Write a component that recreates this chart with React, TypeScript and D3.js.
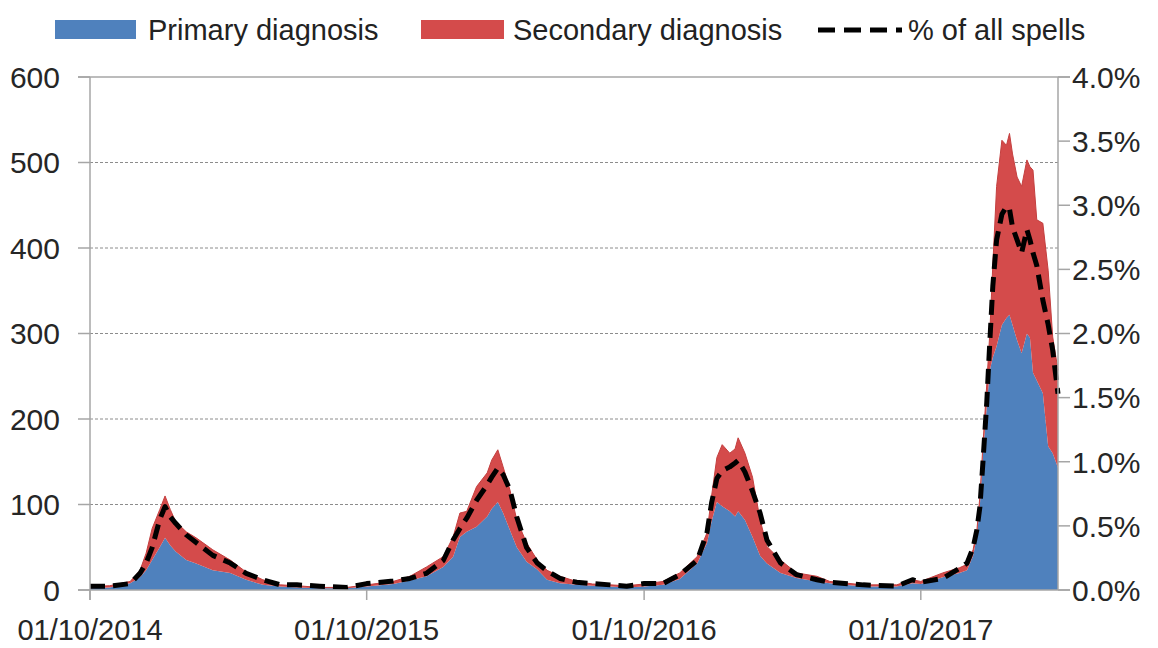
import * as d3 from "d3";

// sample dates (irregular, denser around the winter peaks)
const dates = [
  "2014-10-01", "2014-10-27", "2014-11-23", "2014-12-06", "2014-12-14", "2014-12-22",
  "2015-01-01", "2015-01-08", "2015-01-15", "2015-01-22", "2015-02-05", "2015-02-18",
  "2015-03-12", "2015-04-04", "2015-04-25", "2015-05-17", "2015-06-09", "2015-07-01",
  "2015-07-31", "2015-09-05",
  "2015-10-01", "2015-11-05", "2015-11-27", "2015-12-19", "2016-01-10", "2016-01-23",
  "2016-02-01", "2016-02-10", "2016-02-23", "2016-03-08", "2016-03-14", "2016-03-22",
  "2016-03-29", "2016-04-07", "2016-04-16", "2016-04-29", "2016-05-13", "2016-05-26",
  "2016-06-12", "2016-07-04", "2016-07-25", "2016-08-17", "2016-09-08",
  "2016-10-01", "2016-10-26", "2016-11-17", "2016-12-10", "2016-12-23", "2016-12-29",
  "2017-01-05", "2017-01-12", "2017-01-22", "2017-01-29", "2017-02-02", "2017-02-11",
  "2017-02-21", "2017-03-03", "2017-03-12", "2017-03-30", "2017-04-20", "2017-05-17",
  "2017-06-03", "2017-07-17", "2017-08-30", "2017-09-20",
  "2017-10-01", "2017-10-30", "2017-11-21", "2017-12-01", "2017-12-09", "2017-12-14",
  "2017-12-18", "2017-12-22", "2017-12-27", "2017-12-31", "2018-01-04", "2018-01-09",
  "2018-01-16", "2018-01-22", "2018-01-26", "2018-01-30", "2018-02-05", "2018-02-11",
  "2018-02-18", "2018-02-22", "2018-02-26", "2018-03-03", "2018-03-11", "2018-03-18",
  "2018-03-24", "2018-03-31",
];

const primary = [
  2, 3, 8, 15, 23, 35, 50, 61, 52, 45, 35, 31, 23, 20, 12, 6, 4, 3, 2, 2,
  4, 7, 11, 16, 27, 39, 62, 68, 74, 86, 95, 103, 90, 70, 50, 33, 24, 12, 8, 6, 5, 4, 3,
  4, 6, 13, 31, 55, 80, 103, 98, 92, 86, 92, 82, 62, 40, 31, 20, 14, 10, 8, 4, 4, 8,
  7, 15, 20, 23, 40, 62, 100, 158, 215, 257, 272, 285, 310, 318, 322, 310, 292, 277,
  300, 295, 254, 245, 230, 168, 160, 143,
];

const total = [
  4, 5, 10, 23, 43, 72, 94, 110, 94, 80, 68, 61, 47, 35, 21, 12, 6, 5, 3, 3,
  6, 10, 16, 27, 39, 62, 90, 92, 121, 137, 152, 164, 144, 117, 82, 55, 35, 23, 16, 10, 7, 6, 5,
  7, 10, 20, 39, 67, 110, 155, 170, 160, 165, 178, 160, 132, 82, 51, 35, 20, 16, 10, 6, 6, 12,
  10, 20, 26, 30, 47, 70, 110, 170, 240, 300, 380, 472, 526, 520, 534, 510, 483, 472,
  503, 495, 491, 433, 429, 374, 296, 257,
];
const secondary = total.map((t, i) => t - primary[i]);

// % of all spells
const pctSpells = [
  0.03, 0.03, 0.05, 0.13, 0.21, 0.33, 0.55, 0.65, 0.57, 0.52, 0.43, 0.37, 0.27, 0.21,
  0.13, 0.08, 0.04, 0.04, 0.03, 0.02,
  0.05, 0.07, 0.09, 0.13, 0.23, 0.39, 0.48, 0.56, 0.70, 0.82, 0.88, 0.95, 0.90, 0.78,
  0.57, 0.33, 0.21, 0.15, 0.09, 0.06, 0.05, 0.04, 0.03,
  0.05, 0.05, 0.12, 0.23, 0.45, 0.68, 0.87, 0.93, 0.96, 0.99, 1.01, 0.92, 0.77, 0.60,
  0.39, 0.21, 0.12, 0.08, 0.06, 0.04, 0.03, 0.08,
  0.06, 0.09, 0.17, 0.21, 0.33, 0.47, 0.65, 1.0, 1.46, 1.93, 2.37, 2.73, 2.93, 2.99,
  2.97, 2.83, 2.73, 2.63, 2.81, 2.73, 2.63, 2.53, 2.26, 2.07, 1.87, 1.53,
];

const xTicks = ["2014-10-01", "2015-10-01", "2016-10-01", "2017-10-01"];
const leftTicks = [0, 100, 200, 300, 400, 500, 600];
const rightTicks = [0, 0.5, 1, 1.5, 2, 2.5, 3, 3.5, 4];

const BLUE = "#4F81BD";
const RED = "#D44B4B";
const FONT = "'Liberation Sans', Arial, sans-serif";

export default function App() {
  const W = 1158, H = 648;
  const plot = { left: 90, right: 1058, top: 77, bottom: 590 };
  const parse = d3.timeParse("%Y-%m-%d");
  const fmt = d3.timeFormat("%d/%m/%Y");

  const x = d3.scaleTime()
    .domain([parse("2014-10-01")!, parse("2018-03-31")!])
    .range([plot.left, plot.right]);
  const y = d3.scaleLinear().domain([0, 600]).range([plot.bottom, plot.top]);
  const y2 = d3.scaleLinear().domain([0, 4]).range([plot.bottom, plot.top]);

  const rows = dates.map((d, i) => ({
    date: parse(d)!,
    primary: primary[i],
    secondary: secondary[i],
    pct: pctSpells[i],
  }));
  const stacked = d3.stack<any>().keys(["primary", "secondary"])(rows);

  const area = d3.area<any>()
    .x((d) => x(d.data.date))
    .y0((d) => y(d[0]))
    .y1((d) => y(d[1]));
  const topLine = d3.line<any>().x((d) => x(d.data.date)).y((d) => y(d[1]));
  const pctLine = d3.line<any>().x((d) => x(d.date)).y((d) => y2(d.pct));

  return (
    <svg width={W} height={H} style={{ position: "absolute", left: 0, top: 0, background: "#fff" }}
      fontFamily={FONT}>
      {/* legend */}
      <g fontSize={29} fill="#222">
        <rect x={55} y={20} width={81} height={19} fill={BLUE} />
        <text x={148} y={40}>Primary diagnosis</text>
        <rect x={421} y={20} width={83} height={19} fill={RED} />
        <text x={513} y={40}>Secondary diagnosis</text>
        <line x1={818} x2={902} y1={30} y2={30} stroke="#000" strokeWidth={5} strokeDasharray="17 9" />
        <text x={908} y={40}>% of all spells</text>
      </g>

      {/* grid */}
      {leftTicks.filter((t) => t > 0 && t < 600).map((t) => (
        <line key={t} x1={plot.left} x2={plot.right} y1={y(t)} y2={y(t)}
          stroke="#8c8c8c" strokeWidth={1} strokeDasharray="3 2" />
      ))}

      {/* areas */}
      <path d={area(stacked[0])!} fill={BLUE} />
      <path d={area(stacked[1])!} fill={RED} />
      <path d={topLine(stacked[1])!} fill="none" stroke="#C43F3F" strokeWidth={1} />
      <path d={pctLine(rows)!} fill="none" stroke="#000" strokeWidth={5}
        strokeDasharray="15 8" strokeLinejoin="round" />

      {/* axes frame */}
      <g stroke="#A6A6A6" strokeWidth={1.5}>
        <line x1={78} x2={1070} y1={y(600)} y2={y(600)} />
        <line x1={78} x2={1070} y1={plot.bottom} y2={plot.bottom} />
        <line x1={plot.left} x2={plot.left} y1={plot.top} y2={plot.bottom + 10} />
        <line x1={plot.right} x2={plot.right} y1={plot.top} y2={plot.bottom} />
        {leftTicks.map((t) => (
          <line key={"l" + t} x1={78} x2={plot.left} y1={y(t)} y2={y(t)} />
        ))}
        {rightTicks.map((t) => (
          <line key={"r" + t} x1={plot.right} x2={1070} y1={y2(t)} y2={y2(t)} />
        ))}
        {xTicks.map((t) => (
          <line key={"x" + t} x1={x(parse(t)!)} x2={x(parse(t)!)} y1={plot.bottom} y2={plot.bottom + 10} />
        ))}
      </g>

      {/* tick labels */}
      <g fontSize={30} fill="#262626">
        {leftTicks.map((t) => (
          <text key={"lt" + t} x={60} y={y(t)} dy="0.36em" textAnchor="end">{t}</text>
        ))}
        {rightTicks.map((t) => (
          <text key={"rt" + t} x={1072} y={y2(t)} dy="0.36em">{t.toFixed(1) + "%"}</text>
        ))}
      </g>
      <g fontSize={29} fill="#262626">
        {xTicks.map((t) => (
          <text key={"xt" + t} x={x(parse(t)!)} y={640} textAnchor="middle">{fmt(parse(t)!)}</text>
        ))}
      </g>
    </svg>
  );
}
